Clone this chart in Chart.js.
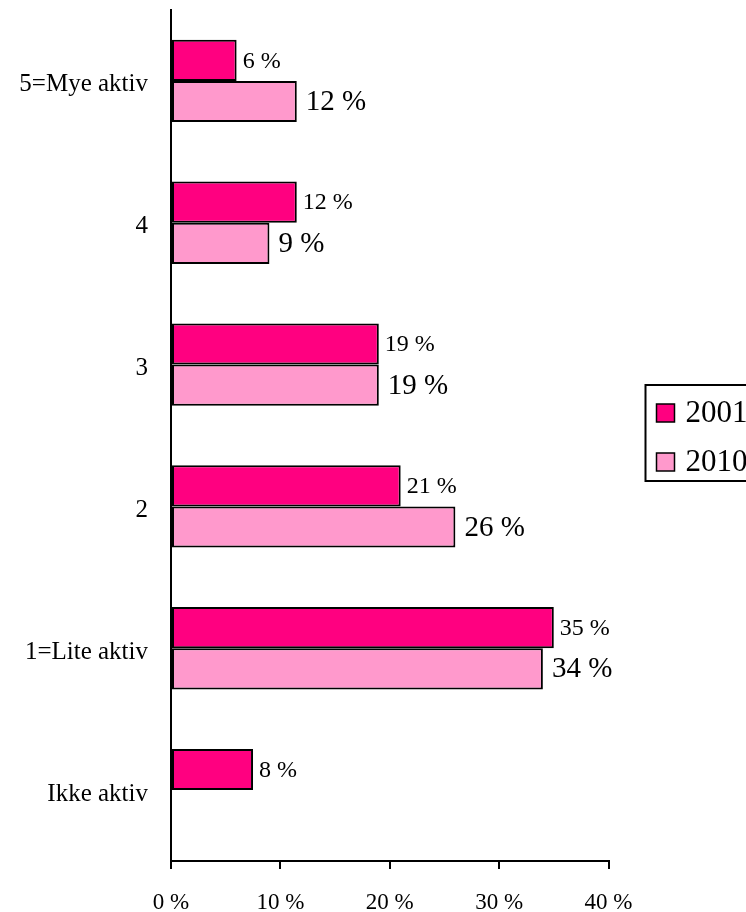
<!DOCTYPE html>
<html lang="no">
<head>
<meta charset="utf-8"/>
<title>Aktivitet 2001 og 2010</title>
<script src="https://cdn.jsdelivr.net/npm/chart.js"></script>
<style>
    body {
      margin: 0;
      background: white;
      overflow: hidden;
    }
    canvas {
      display: block;
    }
  </style>
</head>
<body>
<canvas id="chart" width="746" height="912"></canvas>
<script>
    // data
    const categories = ['5=Mye aktiv', '4', '3', '2', '1=Lite aktiv', 'Ikke aktiv'];
    const seriesNames = ['2001', '2010'];
    const values2001 = [6, 11.5, 19, 21, 35, 7.5];
    const values2010 = [11.5, 9, 19, 26, 34, null];
    const xTicks = [0, 10, 20, 30, 40];

    const serif = "'Liberation Serif', 'Times New Roman', serif";
    Chart.defaults.font.family = serif;
    Chart.defaults.color = '#000';

    // value labels next to each bar
    const barLabels = {
      id: 'barLabels',
      afterDatasetsDraw(chart) {
        const ctx = chart.ctx;
        const sizes = [24, 29];
        const gaps = [6, 9];
        chart.data.datasets.forEach((ds, i) => {
          const meta = chart.getDatasetMeta(i);
          meta.data.forEach((bar, j) => {
            const v = ds.data[j];
            if (v == null) return;
            ctx.save();
            ctx.font = sizes[i] + 'px ' + serif;
            ctx.fillStyle = '#000';
            ctx.textBaseline = 'middle';
            ctx.fillText(Math.round(v) + ' %', bar.x + gaps[i], bar.y + 1);
            ctx.restore();
          });
        });
      }
    };

    // boxed legend on the right, runs off the edge like the original
    const boxLegend = {
      id: 'boxLegend',
      afterDraw(chart) {
        const ctx = chart.ctx;
        const left = chart.chartArea.right + 37;
        const top = 385;
        ctx.save();
        ctx.lineWidth = 2;
        ctx.strokeStyle = '#000';
        ctx.fillStyle = '#fff';
        ctx.fillRect(left, top, 200, 96);
        ctx.strokeRect(left, top, 200, 96);
        ctx.font = '31px ' + serif;
        ctx.textBaseline = 'middle';
        chart.data.datasets.forEach((ds, i) => {
          const cy = top + 28 + i * 49;
          ctx.fillStyle = ds.backgroundColor;
          ctx.fillRect(left + 11, cy - 9, 18, 18);
          ctx.lineWidth = 1.5;
          ctx.strokeRect(left + 11, cy - 9, 18, 18);
          ctx.fillStyle = '#000';
          ctx.fillText(ds.label, left + 40, cy + 1);
        });
        ctx.restore();
      }
    };

    new Chart(document.getElementById('chart'), {
      type: 'bar',
      data: {
        labels: categories,
        datasets: [
          {
            label: seriesNames[0],
            data: values2001,
            backgroundColor: '#FF0080',
            borderColor: '#000',
            borderWidth: 2,
            borderSkipped: false
          },
          {
            label: seriesNames[1],
            data: values2010,
            backgroundColor: '#FF99CC',
            borderColor: '#000',
            borderWidth: 2,
            borderSkipped: false
          }
        ]
      },
      options: {
        indexAxis: 'y',
        responsive: false,
        animation: false,
        categoryPercentage: 0.58,
        barPercentage: 1,
        layout: {
          padding: { top: 10, right: 137.5, left: 0, bottom: 0 }
        },
        plugins: {
          legend: { display: false },
          tooltip: { enabled: false }
        },
        scales: {
          x: {
            min: 0,
            max: 40,
            afterBuildTicks(scale) {
              scale.ticks = xTicks.map(v => ({ value: v }));
            },
            afterFit(scale) {
              scale.height = 51;
            },
            ticks: {
              font: { size: 23 },
              padding: 20,
              callback: v => v + ' %'
            },
            grid: {
              drawOnChartArea: false,
              drawTicks: true,
              tickLength: 8,
              color: '#000',
              lineWidth: 2
            },
            border: { color: '#000', width: 2 }
          },
          y: {
            afterFit(scale) {
              scale.width = 171;
              scale.paddingTop = 0;
              scale.paddingBottom = 0;
            },
            ticks: {
              font: { size: 25 },
              padding: 15,
              labelOffset: 4
            },
            grid: { display: false },
            border: { display: true, color: '#000', width: 2 }
          }
        }
      },
      plugins: [barLabels, boxLegend]
    });
  </script>
</body>
</html>
